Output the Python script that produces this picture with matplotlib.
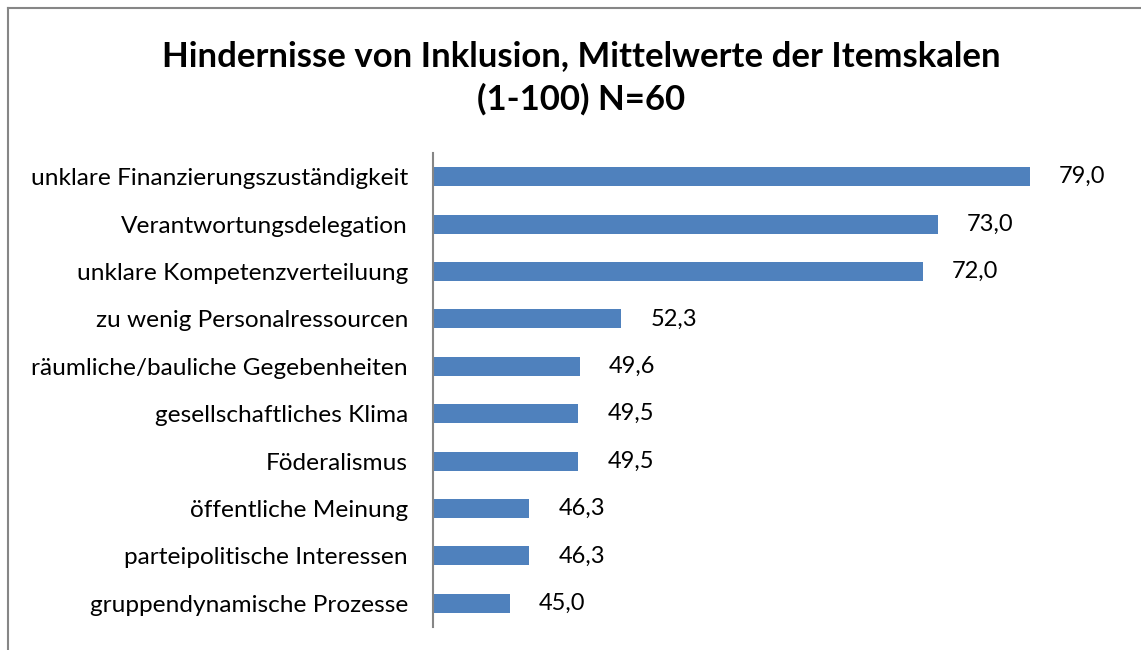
import matplotlib

matplotlib.use("Agg")
import matplotlib.pyplot as plt
from matplotlib.lines import Line2D

plt.rcParams["font.family"] = ["Lato", "DejaVu Sans"]

CATEGORIES = [
    "unklare Finanzierungszuständigkeit",
    "Verantwortungsdelegation",
    "unklare Kompetenzverteiluung",
    "zu wenig Personalressourcen",
    "räumliche/bauliche Gegebenheiten",
    "gesellschaftliches Klima",
    "Föderalismus",
    "öffentliche Meinung",
    "parteipolitische Interessen",
    "gruppendynamische Prozesse",
]
VALUES = [79.0, 73.0, 72.0, 52.3, 49.6, 49.5, 49.5, 46.3, 46.3, 45.0]
TITLE = "Hindernisse von Inklusion, Mittelwerte der Itemskalen\n(1-100) N=60"

W, H = 1141, 650
fig = plt.figure(figsize=(W / 100, H / 100), dpi=100)
ax = fig.add_axes([433 / W, 1 - 627 / H, (1045 - 433) / W, (627 - 153) / H])

y = list(range(len(CATEGORIES)))
ax.barh(y, VALUES, height=0.4, color="#4F81BD")
ax.set_xlim(40, 80)
ax.set_ylim(len(CATEGORIES) - 0.5, -0.5)
ax.set_yticks(y)
ax.set_yticklabels(CATEGORIES, fontsize=17.6, color="black")
ax.tick_params(axis="y", length=0, pad=18)
ax.set_xticks([])
for s in ["top", "right", "bottom"]:
    ax.spines[s].set_visible(False)
ax.spines["left"].set_color("#868686")
ax.spines["left"].set_linewidth(1.5)

for yi, v in zip(y, VALUES):
    ax.annotate(f"{v:.1f}".replace(".", ","), (v, yi), xytext=(29, 0),
                textcoords="offset pixels", va="center", ha="left", fontsize=17)

fig.text(581 / W, 1 - 78 / H, TITLE, ha="center", va="center",
         fontsize=25, fontweight="bold", linespacing=1.4)

# chart frame (only top and left visible in the crop)
fig.add_artist(Line2D([8 / W, 8 / W], [0, 1 - 8 / H], transform=fig.transFigure,
                      color="#868686", lw=1.5))
fig.add_artist(Line2D([8 / W, 1], [1 - 8 / H, 1 - 8 / H], transform=fig.transFigure,
                      color="#868686", lw=1.5))

fig.savefig("out.png", dpi=100)
